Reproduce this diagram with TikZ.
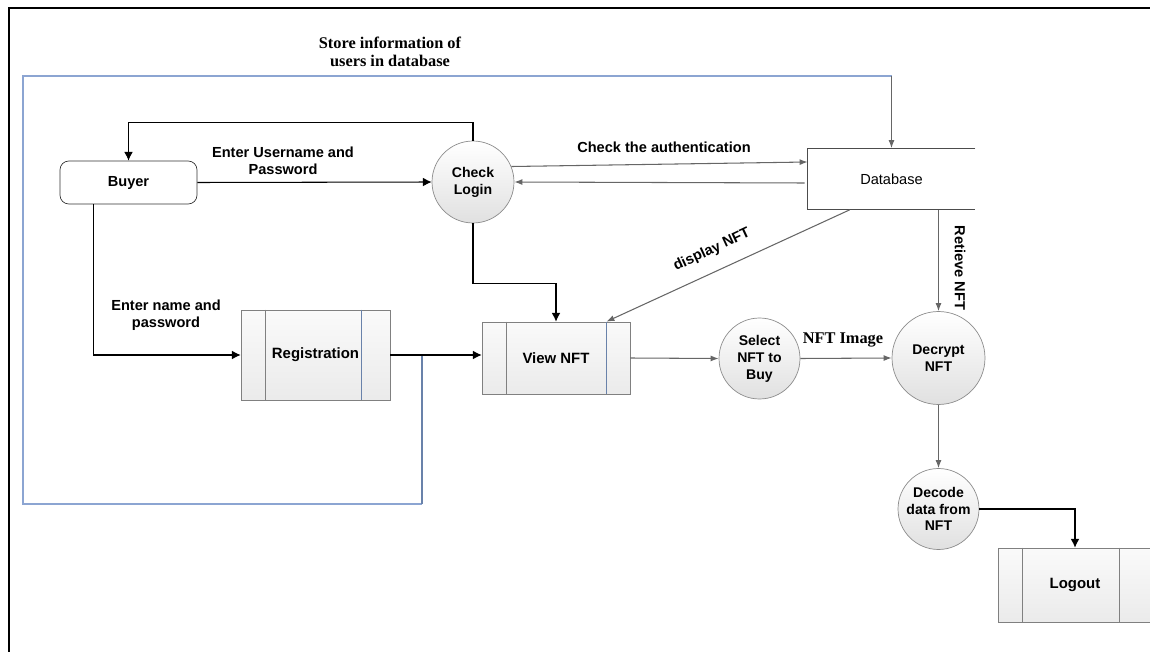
\documentclass[tikz,border=0pt]{standalone}
\usepackage{fontspec}
\setmainfont{Liberation Serif}
\setsansfont{Liberation Sans}
\usetikzlibrary{arrows.meta,calc}

\definecolor{storeblue}{RGB}{140,165,210}
\definecolor{barblue}{RGB}{105,130,170}

\tikzset{
	proc/.style={draw=black!50, top color=black!2, bottom color=black!8, minimum width=2.98cm, minimum height=1.8cm, font=\sffamily\bfseries\fontsize{8.5}{10}\selectfont},
	bubble/.style={circle, draw=black!45, top color=white, bottom color=black!12, align=center, inner sep=0pt, font=\sffamily\bfseries\fontsize{8}{9.6}\selectfont},
	lbl/.style={align=center, font=\sffamily\bfseries\fontsize{8.3}{9.4}\selectfont},
	flow/.style={-{Latex[length=5pt,width=5pt]}, black, line width=0.6pt},
	gflow/.style={-{Latex[length=4.6pt,width=3.4pt]}, black!60, line width=0.6pt},
	storeline/.style={line width=0.9pt, storeblue}
}

\begin{document}
\begin{tikzpicture}[x=0.02cm, y=-0.02cm]
				\useasboundingbox (0,0) rectangle (1150,652);
				%draw frame
				\draw[line width=0.9pt] (9,652) -- (9,8) -- (1150,8);
				%draw nodes
				\node[draw=black!80, fill=white, rounded corners=5pt, minimum width=2.74cm, minimum height=0.86cm, font=\sffamily\bfseries\fontsize{8.3}{10}\selectfont] (buyer) at (128.5,182.5) {Buyer};
				\node[bubble, minimum size=1.64cm] (login) at (473,182) {Check\\Login};
				\node[minimum width=3.34cm, minimum height=1.22cm, font=\sffamily\fontsize{8.3}{10}\selectfont] (db) at (891.5,179) {Database};
				\draw[black!70] (db.north east) -- (db.north west) -- (db.south west) -- (db.south east);
				\node[proc] (reg) at (315.5,355) {Registration};
				\node[proc, minimum width=2.96cm, minimum height=1.44cm] (view) at (556,358) {View NFT};
				\node[bubble, minimum size=1.62cm] (select) at (759.5,358.5) {Select\\NFT to\\Buy};
				\node[bubble, minimum size=1.86cm] (decrypt) at (938.5,358) {Decrypt\\NFT};
				\node[bubble, minimum size=1.62cm] (decode) at (938.5,509) {Decode\\data from\\NFT};
				\node[proc, minimum width=3.08cm, minimum height=1.48cm] (logout) at (1075,585) {Logout};
				%draw side bars of the process boxes
				\foreach \n/\a/\b/\c in {reg/25/29/barblue, view/25/24/barblue, logout/25/33/black!50}{
					\draw[black!50] ($(\n.north west)+(\a,0)$) -- ($(\n.south west)+(\a,0)$);
					\draw[\c] ($(\n.north east)+(-\b,0)$) -- ($(\n.south east)+(-\b,0)$);
				}
				%draw labels
				\node[align=center, font=\bfseries\fontsize{9.3}{10.6}\selectfont] (store) at (390,52) {Store information of\\users in database};
				\node[lbl] (upw) at (283,161) {Enter Username and\\Password};
				\node[lbl] (npw) at (166,315) {Enter name and\\password};
				\node[lbl] (auth) at (664,147) {Check the authentication};
				\node[lbl, rotate=25, inner sep=1pt] (disp) at (712,250) {display NFT};
				\node[lbl, rotate=-90] (ret) at (960,268) {Retieve NFT};
				\node[font=\bfseries\fontsize{9.3}{10}\selectfont] (img) at (843,340) {NFT Image};
				%draw store loop
				\coordinate (tap) at (422,355);
				\coordinate (storetop) at (0,76);
				\draw[storeline] (422,504) -- (23,504) -- (23,76) -- (db.north |- storetop);
				\draw[storeline, barblue] (tap) -- (422,504);
				\draw[gflow] (db.north |- storetop) -- (db.north);
				%draw connectors
				\draw[flow] (login.north) -- ++(0,-18) -| (buyer.north);
				\draw[flow] (buyer.east) -- (login.west);
				\draw[gflow] (login.22) -- ($(db.west)+(0,-17)$);
				\draw[gflow] ($(db.west)+(-3,4)$) -- (login.east);
				\draw[flow] ($(buyer.south west)+(34,0)$) |- (reg.west);
				\draw[flow] (reg.east) -- (reg.east -| view.west);
				\draw[flow] (login.south) -- ++(0,60) -| (view.north);
				\draw[gflow] ($(db.south west)+(42,0)$) -- ($(view.north east)+(-24,0)$);
				\draw[gflow] (db.south -| decrypt.north) -- (decrypt.north);
				\draw[gflow] (view.east) -- (select.west);
				\draw[gflow] (select.east) -- (decrypt.west);
				\draw[gflow] (decrypt.south) -- (decode.north);
				\draw[flow] (decode.east) -| (logout.north);
\end{tikzpicture}
\end{document}
